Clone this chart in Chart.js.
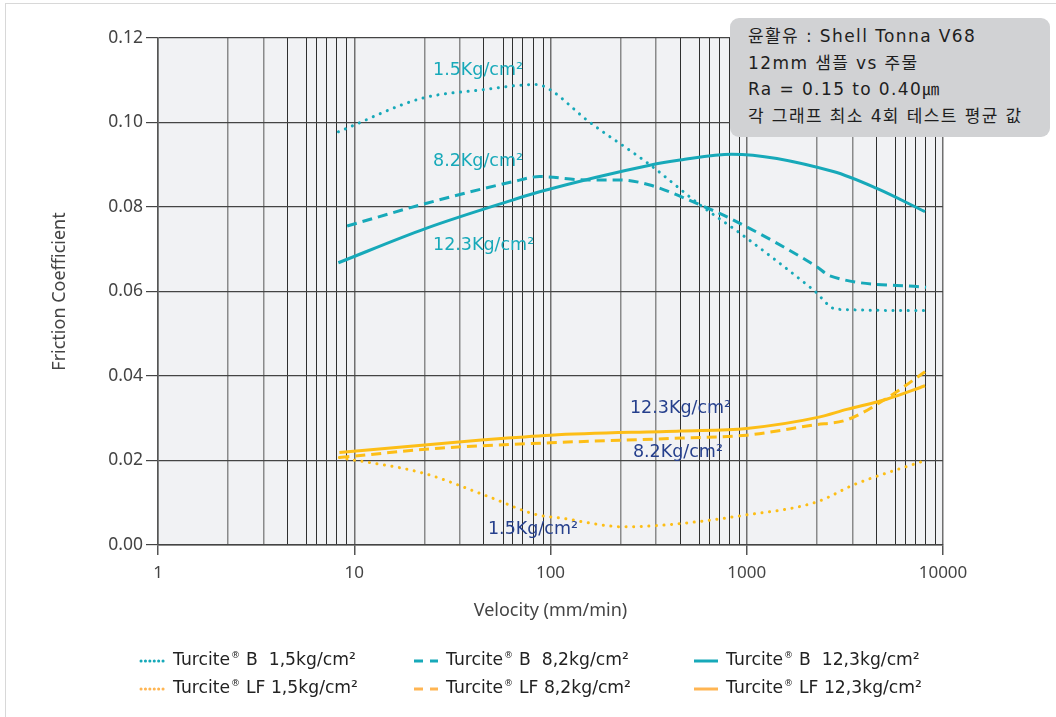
<!DOCTYPE html>
<html>
<head>
<meta charset="utf-8">
<script src="https://cdn.jsdelivr.net/npm/chart.js@4.4.1/dist/chart.umd.min.js"></script>
<style>
  html, body { margin: 0; padding: 0; background: #fff; }
  #wrap { position: relative; width: 1056px; height: 717px; overflow: hidden; }
  #frame {
    position: absolute; left: 5px; top: 3px; width: 1100px; height: 800px;
    border-left: 1px solid #d8d8d8; border-top: 1px solid #d8d8d8;
  }
  #frictionChart { position: absolute; left: 0; top: 0; }
  #note {
    position: absolute; left: 730px; top: 18px; width: 320px; height: 119px;
    box-sizing: border-box; padding: 5px 0 0 18px;
    background: #d1d2d4; border-radius: 9px;
    font-family: "DejaVu Sans", "Noto Sans CJK KR", sans-serif; font-size: 17px;
    letter-spacing: 1.4px; line-height: 26.5px; color: #1e1e1e; white-space: nowrap;
  }
</style>
</head>
<body>
<div id="wrap">
  <div id="frame"></div>
  <canvas id="frictionChart" width="1056" height="717"></canvas>
  <div id="note">
    <div>윤활유 : Shell Tonna V68</div>
    <div>12mm 샘플 vs 주물</div>
    <div>Ra = 0.15 to 0.40㎛</div>
    <div>각 그래프 최소 4회 테스트 평균 값</div>
  </div>
</div>
<script>
// velocity (mm/min) and friction coefficient
const VEL_B15 = [8.3, 22, 44, 85, 100, 153, 321, 578, 924, 2183, 2870, 8200];
const FRIC_B15 = [0.0978, 0.1057, 0.1077, 0.1090, 0.1077, 0.1006, 0.0900, 0.0805, 0.0738, 0.0604, 0.0558, 0.0555];

const VEL_B82 = [9.2, 23.4, 64.6, 88, 153, 226, 321, 578, 822, 2270, 2655, 8200];
const FRIC_B82 = [0.0755, 0.0809, 0.0860, 0.0872, 0.0864, 0.0864, 0.0852, 0.0805, 0.0773, 0.0659, 0.0637, 0.0610];

const VEL_B123 = [8.3, 23.4, 64.6, 88, 321, 457, 838, 2760, 4600, 8100];
const FRIC_B123 = [0.0668, 0.0750, 0.0817, 0.0836, 0.0899, 0.0911, 0.0925, 0.0884, 0.0844, 0.0789];

const VEL_LF15 = [8.4, 22.5, 48, 84.5, 112, 240, 420, 924, 2275, 3530, 8100];
const FRIC_LF15 = [0.0207, 0.0170, 0.0115, 0.0072, 0.0064, 0.0043, 0.0049, 0.0069, 0.0102, 0.0143, 0.0200];

const VEL_LF82 = [8.4, 27, 100, 463, 1000, 2180, 3230, 5160, 8100];
const FRIC_LF82 = [0.0207, 0.0229, 0.0242, 0.0253, 0.0260, 0.0284, 0.0296, 0.0347, 0.0410];

const VEL_LF123 = [8.4, 46, 100, 463, 1000, 2300, 3230, 5160, 8100];
const FRIC_LF123 = [0.0219, 0.0249, 0.0260, 0.0270, 0.0276, 0.0302, 0.0321, 0.0345, 0.0377];

const DECADES = [1, 10, 100, 1000, 10000];
// the printed grid is not a true log grid; these are its lines inside each decade
const GRID_STEPS = [1, 2.28, 3.45, 4.58, 5.73, 6.44, 7.24, 8.15, 9.16];
const Y_TICKS = [0, 0.02, 0.04, 0.06, 0.08, 0.1, 0.12];

const LEGEND_LOADS = ["B  1,5kg/cm²", "B  8,2kg/cm²", "B  12,3kg/cm²",
                      "LF 1,5kg/cm²", "LF 8,2kg/cm²", "LF 12,3kg/cm²"];

const CURVE_LABELS = [
  { text: "1.5Kg/cm²", v: 25.2, f: 0.1124, color: "#17a9b9" },
  { text: "8.2Kg/cm²", v: 25.2, f: 0.0907, color: "#17a9b9" },
  { text: "12.3Kg/cm²", v: 25.2, f: 0.0710, color: "#17a9b9" },
  { text: "12.3Kg/cm²", v: 254, f: 0.0324, color: "#253f8c" },
  { text: "8.2Kg/cm²", v: 263, f: 0.0218, color: "#253f8c" },
  { text: "1.5Kg/cm²", v: 48, f: 0.0036, color: "#253f8c" }
];

const TEAL = "#17a9b9";
const YELLOW = "#fdbe16";
const LEGEND_ORANGE = "#ffb552";

function points(xs, ys) {
  return xs.map((x, i) => ({ x: x, y: ys[i] }));
}

function series(xs, ys, color, legendColor, style) {
  const base = {
    data: points(xs, ys),
    borderColor: color,
    backgroundColor: color,
    legendColor: legendColor,
    borderWidth: 3,
    pointRadius: 0,
    pointHoverRadius: 0,
    fill: false,
    cubicInterpolationMode: "monotone"
  };
  if (style === "dot") {
    base.borderDash = [0.1, 7.5];
    base.borderCapStyle = "round";
    base.legendDash = [0.1, 4.3];
  } else if (style === "dash") {
    base.borderDash = [10, 6];
    base.legendDash = [9, 7];
  }
  return base;
}

const datasets = [
  series(VEL_B15, FRIC_B15, TEAL, TEAL, "dot"),
  series(VEL_B82, FRIC_B82, TEAL, TEAL, "dash"),
  series(VEL_B123, FRIC_B123, TEAL, TEAL, "solid"),
  series(VEL_LF15, FRIC_LF15, YELLOW, LEGEND_ORANGE, "dot"),
  series(VEL_LF82, FRIC_LF82, YELLOW, LEGEND_ORANGE, "dash"),
  series(VEL_LF123, FRIC_LF123, YELLOW, LEGEND_ORANGE, "solid")
];

const plotBackground = {
  id: "plotBackground",
  beforeDraw(chart) {
    const { ctx, chartArea } = chart;
    ctx.save();
    ctx.fillStyle = "#f1f2f4";
    ctx.fillRect(chartArea.left, chartArea.top,
      chartArea.right - chartArea.left, chartArea.bottom - chartArea.top);
    ctx.restore();
  }
};

const curveLabels = {
  id: "curveLabels",
  afterDatasetsDraw(chart) {
    const { ctx, scales } = chart;
    ctx.save();
    ctx.font = '17.5px "DejaVu Sans", sans-serif';
    ctx.textBaseline = "middle";
    ctx.textAlign = "left";
    CURVE_LABELS.forEach(label => {
      ctx.fillStyle = label.color;
      ctx.fillText(label.text, scales.x.getPixelForValue(label.v),
        scales.y.getPixelForValue(label.f));
    });
    ctx.restore();
  }
};

const legendColumns = [140, 413, 693];
const legendRows = [661, 689];

const sampleLegend = {
  id: "sampleLegend",
  afterDraw(chart) {
    const ctx = chart.ctx;
    chart.data.datasets.forEach((ds, i) => {
      const x = legendColumns[i % 3];
      const y = legendRows[Math.floor(i / 3)];
      ctx.save();
      ctx.strokeStyle = ds.legendColor;
      ctx.lineWidth = 3;
      ctx.lineCap = ds.borderCapStyle || "butt";
      ctx.setLineDash(ds.legendDash || []);
      ctx.beginPath();
      ctx.moveTo(x + 1, y);
      ctx.lineTo(x + 25, y);
      ctx.stroke();
      ctx.setLineDash([]);

      ctx.fillStyle = "#222";
      ctx.textBaseline = "middle";
      ctx.textAlign = "left";
      let tx = x + 33;
      ctx.font = '17.2px "DejaVu Sans", sans-serif';
      ctx.fillText("Turcite", tx, y);
      tx += ctx.measureText("Turcite").width + 1;
      ctx.font = '9px "DejaVu Sans", sans-serif';
      ctx.fillText("®", tx, y - 5);
      tx += ctx.measureText("®").width + 6;
      ctx.font = '17.2px "DejaVu Sans", sans-serif';
      ctx.fillText(LEGEND_LOADS[i], tx, y);
      ctx.restore();
    });
  }
};

Chart.defaults.font.family = '"Noto Sans", sans-serif';

function gridStep(v) {
  return Number((v / Math.pow(10, Math.floor(Math.log10(v) + 1e-9))).toPrecision(3));
}

new Chart(document.getElementById("frictionChart"), {
  type: "line",
  data: { datasets: datasets },
  plugins: [plotBackground, curveLabels, sampleLegend],
  options: {
    responsive: false,
    animation: false,
    events: [],
    layout: { padding: { left: 0, right: 113, top: 38, bottom: 92 } },
    plugins: {
      legend: { display: false },
      tooltip: { enabled: false }
    },
    scales: {
      x: {
        type: "logarithmic",
        min: 1,
        max: 10000,
        afterBuildTicks: scale => {
          const ticks = [];
          DECADES.forEach(d => {
            if (d === 10000) {
              ticks.push({ value: d });
              return;
            }
            GRID_STEPS.forEach(s => ticks.push({ value: Number((d * s).toPrecision(5)) }));
          });
          scale.ticks = ticks;
        },
        afterFit: scale => { scale.height = 80; },
        ticks: {
          autoSkip: false,
          maxRotation: 0,
          padding: 8,
          color: "#444",
          font: { size: 17 },
          callback: value => (DECADES.includes(value) ? String(value) : "")
        },
        grid: {
          drawTicks: true,
          tickLength: 10,
          color: ctx => {
            const v = ctx.tick ? ctx.tick.value : 1;
            const step = gridStep(v);
            if (DECADES.includes(v)) return "#6f6f6f";
            if (step === 2.28 || step === 3.45) return "#8a8a8a";
            return "#2f2f2f";
          },
          lineWidth: ctx => {
            const v = ctx.tick ? ctx.tick.value : 1;
            const step = gridStep(v);
            if (DECADES.includes(v) || step === 2.28 || step === 3.45) return 1.5;
            return 1;
          },
          tickColor: ctx => (ctx.tick && DECADES.includes(ctx.tick.value) ? "#555" : "rgba(0,0,0,0)"),
          tickWidth: 1.5
        },
        border: { display: true, color: "#444", width: 1.5 },
        title: {
          display: true,
          text: "Velocity (mm/min)",
          color: "#444",
          font: { size: 18 },
          padding: { top: 0, bottom: 3 }
        }
      },
      y: {
        min: 0,
        max: 0.12,
        afterBuildTicks: scale => {
          scale.ticks = Y_TICKS.map(v => ({ value: v }));
        },
        afterFit: scale => { scale.width = 158; },
        ticks: {
          padding: 3,
          color: "#444",
          font: { size: 17.5 },
          callback: value => value.toFixed(2)
        },
        grid: {
          color: "#444",
          lineWidth: 1.2,
          tickLength: 12,
          tickColor: "#444"
        },
        border: { display: true, color: "#555", width: 1.5 },
        title: {
          display: true,
          text: "Friction Coefficient",
          color: "#444",
          font: { size: 18 },
          padding: { top: 49, bottom: 0 }
        }
      }
    }
  }
});
</script>
</body>
</html>
